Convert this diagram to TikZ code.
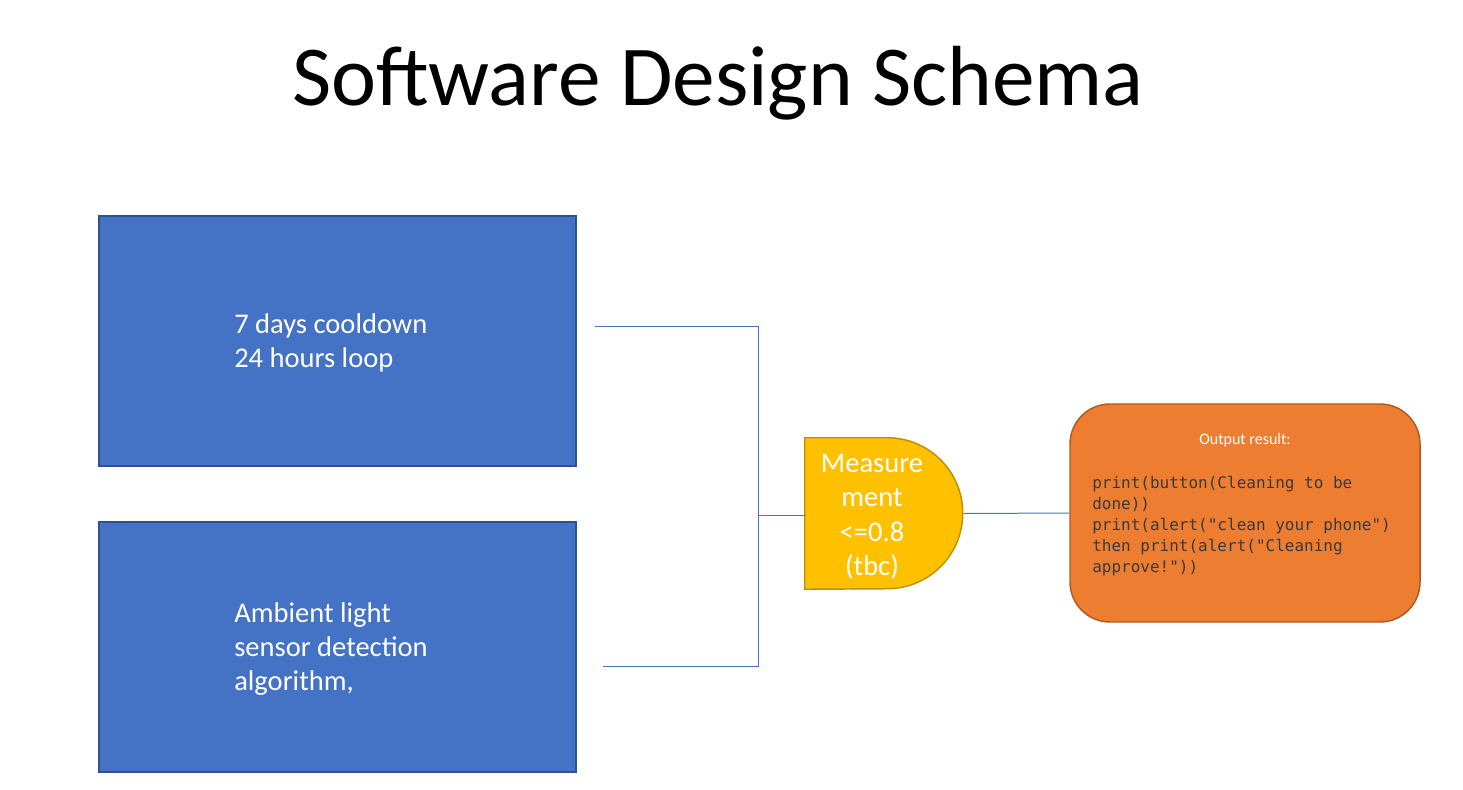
\documentclass[tikz,border=0pt]{standalone}
\usepackage{fontspec}
\setmainfont{Carlito}
\newfontfamily\codefont{DejaVu Sans Mono}
\definecolor{boxblue}{HTML}{4472C4}
\definecolor{boxblueline}{HTML}{2F528F}
\definecolor{gateyellow}{HTML}{FFC000}
\definecolor{gateline}{HTML}{BF9000}
\definecolor{outorange}{HTML}{ED7D31}
\definecolor{outline}{HTML}{AE5A21}
\definecolor{codegray}{HTML}{3A3A3A}
\begin{document}
\begin{tikzpicture}[x=0.75pt,y=-0.75pt,
  inputbox/.style={draw=boxblueline,fill=boxblue,line width=1.3pt,
    minimum width=477*0.75pt,minimum height=250*0.75pt,inner sep=0pt},
  boxtext/.style={anchor=west,inner sep=0pt,align=left,text=white,
    font=\fontsize{21.4}{25.5}\selectfont},
  wire/.style={draw=boxblue,line width=0.75pt},
  outbox/.style={draw=outline,fill=outorange,line width=1.1pt,rounded corners=30pt,
    minimum width=350*0.75pt,minimum height=218*0.75pt,inner sep=0pt}]
\useasboundingbox (0,0) rectangle (1463,789);

% title
\node (title) at (718,83) {\fontsize{64}{68}\selectfont Software Design Schema};

% input blocks
\node[inputbox] (timer) at (337.5,341) {};
\node[boxtext] (timertext) at (234,343) {7 days cooldown\\24 hours loop};
\node[inputbox] (sensor) at (337.5,647) {};
\node[boxtext] (sensortext) at (234,649) {Ambient light\\sensor detection\\algorithm,};

% measurement gate (flat left side, round right side)
\node[minimum width=158*0.75pt,minimum height=151*0.75pt,inner sep=0pt] (gate) at (884,513.5) {};
\draw[fill=gateyellow,draw=gateline,line width=1.1pt]
  (gate.north west) -- ++(82.5,0) arc[start angle=-90,end angle=90,radius=75.5]
  -- (gate.south west) -- cycle;
\node[align=center,text=white,inner sep=0pt,font=\fontsize{21.4}{25.9}\selectfont]
  (gatetext) at (872,517) {Measure\\ment\\<=0.8\\(tbc)};

% output block
\node[outbox] (output) at (1245,513) {};
\node[text=white,inner sep=0pt,font=\fontsize{12}{14}\selectfont] (outtitle) at (1245,440) {Output result:};
\node[anchor=west,align=left,inner sep=0pt,text=codegray,
  font=\codefont\fontsize{12}{15.75}\selectfont] (code) at (1092,526)
  {print(button(Cleaning to be\\done))\\print(alert("clean your phone")\\then print(alert("Cleaning\\approve!"))};

% connectors
\coordinate (timerend) at (595,326);
\coordinate (sensorend) at (603,666);
\coordinate (join) at (758,515);
\draw[wire] (timerend) -| (join);
\draw[wire] (sensorend) -| (join);
\draw[wire] (join) -- (join -| gate.west);
\draw[wire] (gate.east) -- (output.west);
\end{tikzpicture}
\end{document}
